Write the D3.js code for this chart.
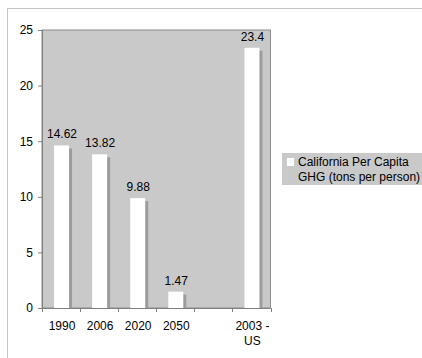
<!DOCTYPE html>
<html>
<head>
<meta charset="utf-8">
<script src="https://cdn.jsdelivr.net/npm/d3@7"></script>
<style>
  html, body { margin: 0; padding: 0; background: #ffffff; }
  svg { display: block; font-family: "Liberation Sans", Arial, sans-serif; }
</style>
</head>
<body>
<svg id="chart" width="422" height="358"></svg>
<script>
// Per-capita greenhouse-gas emissions (tons per person)
const categories = ["1990", "2006", "2020", "2050", "", "2003 -\nUS"];
const values = [14.62, 13.82, 9.88, 1.47, null, 23.4];
const yTicks = [0, 5, 10, 15, 20, 25];
const seriesName = ["California Per Capita", "GHG (tons per person)"];

const svg = d3.select("#chart");
const W = 422, H = 358;

// outer frame
svg.append("rect")
  .attr("x", 7.5).attr("y", 8.5)
  .attr("width", W).attr("height", H)
  .attr("fill", "none").attr("stroke", "#c4c4c4").attr("stroke-width", 1);

const plot = { left: 42, top: 30, right: 270.5, bottom: 308 };

const x = d3.scaleBand()
  .domain(d3.range(categories.length))
  .range([plot.left, plot.right])
  .paddingInner(0).paddingOuter(0);

const y = d3.scaleLinear().domain([0, 25]).range([plot.bottom, plot.top]);

// plot background
svg.append("rect")
  .attr("x", plot.left).attr("y", plot.top)
  .attr("width", plot.right - plot.left).attr("height", plot.bottom - plot.top)
  .attr("fill", "#c9c9c9").attr("stroke", "#8c8c8c").attr("stroke-width", 1);

const barW = 15;
const data = values.map((v, i) => ({ i, v })).filter(d => d.v !== null);
const bx = d => x(d.i) + x.bandwidth() / 2 - barW / 2 + 0.5;

// bar shadows
svg.append("g").selectAll("rect").data(data).join("rect")
  .attr("x", d => bx(d) + 3)
  .attr("y", d => y(d.v) + 3)
  .attr("width", barW)
  .attr("height", d => Math.max(0, y(0) - y(d.v) - 3))
  .attr("fill", "#9c9c9c");

// bars
svg.append("g").selectAll("rect").data(data).join("rect")
  .attr("x", bx)
  .attr("y", d => y(d.v))
  .attr("width", barW)
  .attr("height", d => y(0) - y(d.v))
  .attr("fill", "#ffffff");

// value labels
svg.append("g").selectAll("text").data(data).join("text")
  .attr("x", d => x(d.i) + x.bandwidth() / 2 + 1)
  .attr("y", d => y(d.v) - 7)
  .attr("text-anchor", "middle")
  .attr("font-size", 12)
  .attr("fill", "#000")
  .text(d => d.v);

// y axis
const yAxis = d3.axisLeft(y).tickValues(yTicks).tickSize(4).tickPadding(5);
const gy = svg.append("g").attr("transform", `translate(${plot.left},0)`).call(yAxis);
gy.select(".domain").attr("stroke", "#808080");
gy.selectAll(".tick line").attr("stroke", "#808080");
gy.selectAll(".tick text").attr("font-size", 12).attr("fill", "#000")
  .attr("font-family", "Liberation Sans, Arial, sans-serif");

// x axis: ticks at category boundaries
const gx = svg.append("g");
gx.append("line")
  .attr("x1", plot.left).attr("x2", plot.right)
  .attr("y1", plot.bottom + 0.5).attr("y2", plot.bottom + 0.5)
  .attr("stroke", "#808080");
const bounds = d3.range(categories.length + 1).map(i =>
  i < categories.length ? x(i) : plot.right);
gx.selectAll("line.tk").data(bounds).join("line")
  .attr("class", "tk")
  .attr("x1", d => Math.round(d) + 0.5).attr("x2", d => Math.round(d) + 0.5)
  .attr("y1", plot.bottom).attr("y2", plot.bottom + 4)
  .attr("stroke", "#808080");
const xl = gx.selectAll("text").data(categories.map((c, i) => ({ c, i }))).join("text")
  .attr("x", d => x(d.i) + x.bandwidth() / 2 + 1)
  .attr("y", plot.bottom + 22)
  .attr("text-anchor", "middle")
  .attr("font-size", 12)
  .attr("fill", "#000");
xl.each(function (d) {
  const lines = d.c.split("\n");
  d3.select(this).selectAll("tspan").data(lines).join("tspan")
    .attr("x", x(d.i) + x.bandwidth() / 2 + 1)
    .attr("dy", (l, k) => k === 0 ? 0 : 14.5)
    .text(l => l);
});

// legend
const lg = svg.append("g").attr("transform", "translate(282,153)");
lg.append("rect").attr("width", 140).attr("height", 32).attr("fill", "#c9c9c9");
lg.append("rect").attr("x", 5).attr("y", 5).attr("width", 7).attr("height", 8).attr("fill", "#ffffff");
lg.append("text")
  .attr("font-size", 12).attr("fill", "#000")
  .selectAll("tspan").data(seriesName).join("tspan")
  .attr("x", 16)
  .attr("y", (d, k) => 12.5 + k * 15)
  .text(d => d);
</script>
</body>
</html>
